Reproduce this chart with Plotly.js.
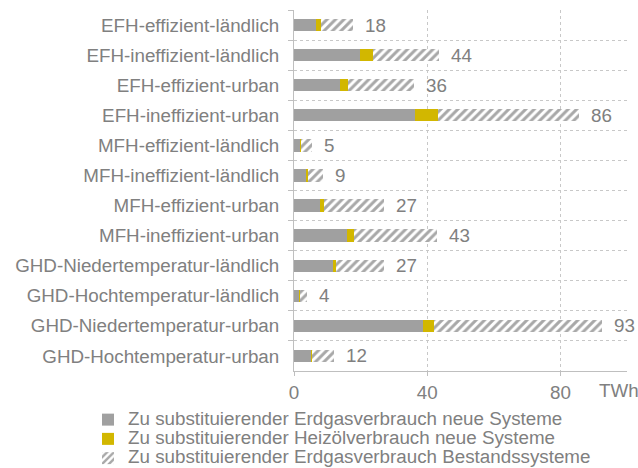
<!DOCTYPE html>
<html>
<head>
<meta charset="utf-8">
<script src="https://cdn.plot.ly/plotly-3.0.1.min.js"></script>
<style>html,body{margin:0;padding:0;background:#fff;}#chart{width:638px;height:468px;}</style>
</head>
<body>
<div id="chart"></div>
<script>
const categories = [
  "EFH-effizient-ländlich",
  "EFH-ineffizient-ländlich",
  "EFH-effizient-urban",
  "EFH-ineffizient-urban",
  "MFH-effizient-ländlich",
  "MFH-ineffizient-ländlich",
  "MFH-effizient-urban",
  "MFH-ineffizient-urban",
  "GHD-Niedertemperatur-ländlich",
  "GHD-Hochtemperatur-ländlich",
  "GHD-Niedertemperatur-urban",
  "GHD-Hochtemperatur-urban"
];
const gasNew = [6.7, 19.9, 13.8, 36.3, 1.8, 3.6, 7.9, 15.8, 11.6, 1.6, 38.8, 5.0];
const oilNew = [1.3, 3.7, 2.5, 7.0, 0.3, 0.5, 1.2, 2.2, 1.0, 0.2, 3.3, 0.4];
const gasOld = [9.8, 20.0, 19.8, 42.3, 3.3, 4.7, 17.9, 25.0, 14.4, 2.2, 50.5, 6.7];
const totalLabels = ["18", "44", "36", "86", "5", "9", "27", "43", "27", "4", "93", "12"];
const seriesNames = [
  "Zu substituierender Erdgasverbrauch neue Systeme",
  "Zu substituierender Heizölverbrauch neue Systeme",
  "Zu substituierender Erdgasverbrauch Bestandssysteme"
];
const xTicks = [0, 40, 80];
const unitLabel = "TWh";

const txt = '#808080';
const FONT = '"Liberation Sans", Arial, sans-serif';
const FS = 18.8;
const big = s => '<span style="font-size:' + FS + 'px">' + s + '</span>';

const traces = [
  {type:'bar', orientation:'h', y:categories, x:gasNew, name:big(seriesNames[0]),
   marker:{color:'#a0a0a0', line:{width:0}}, hoverinfo:'x+y'},
  {type:'bar', orientation:'h', y:categories, x:oilNew, name:big(seriesNames[1]),
   marker:{color:'#d2b700', line:{width:0}}, hoverinfo:'x+y'},
  {type:'bar', orientation:'h', y:categories, x:gasOld, name:big(seriesNames[2]),
   marker:{color:'#ffffff', line:{width:0},
     pattern:{shape:'/', fgcolor:'#a8a8a8', bgcolor:'#ffffff', size:6, solidity:0.5}},
   hoverinfo:'x+y'}
];

const annotations = categories.map((c, i) => ({
  x: gasNew[i] + oilNew[i] + gasOld[i], y: c, xref:'x', yref:'y',
  text: totalLabels[i], showarrow:false, xanchor:'left', xshift:10,
  font:{family:FONT, size:FS, color:txt}
}));
annotations.push({
  x: (597 - 294) / (638 - 294 - 11), y: (468 - 97 - 391) / (468 - 10 - 97),
  xref:'paper', yref:'paper', text: unitLabel,
  showarrow:false, xanchor:'left', yanchor:'middle',
  font:{family:FONT, size:FS, color:txt}
});

const layout = {
  width:638, height:468,
  margin:{l:294, r:11, t:10, b:97, pad:0, autoexpand:false},
  paper_bgcolor:'#ffffff', plot_bgcolor:'#ffffff',
  font:{family:FONT, size:FS, color:txt},
  barmode:'stack', bargap:0.59,
  showlegend:true,
  legend:{orientation:'v', xref:'container', yref:'container',
    x:88/638, y:1-405/468, xanchor:'left', yanchor:'top',
    font:{family:FONT, size:12.5, color:txt}, traceorder:'normal',
    bgcolor:'rgba(0,0,0,0)', borderwidth:0, tracegroupgap:0, itemwidth:30},
  xaxis:{range:[0,100], tickmode:'array', tickvals:xTicks, ticktext:xTicks.map(String),
    automargin:false, tickangle:0,
    showgrid:true, gridcolor:'#c8c8c8', griddash:'dot', gridwidth:1,
    zeroline:false, showline:true, linecolor:'#bfbfbf', linewidth:1,
    ticks:'outside', ticklen:4, tickcolor:'#bfbfbf',
    tickfont:{family:FONT, size:FS, color:txt}, fixedrange:true},
  yaxis:{type:'category', categoryorder:'array', categoryarray:categories,
    range:[11.5, -0.5], tickson:'boundaries', automargin:false,
    showgrid:true, gridcolor:'#c8c8c8', griddash:'dot', gridwidth:1,
    zeroline:false, showline:true, linecolor:'#bfbfbf', linewidth:1,
    ticks:'outside', ticklen:5, tickcolor:'#bfbfbf', ticklabelstandoff:10,
    tickfont:{family:FONT, size:FS, color:txt}, fixedrange:true},
  annotations: annotations
};

Plotly.newPlot('chart', traces, layout, {displayModeBar:false, staticPlot:true});
</script>
</body>
</html>
